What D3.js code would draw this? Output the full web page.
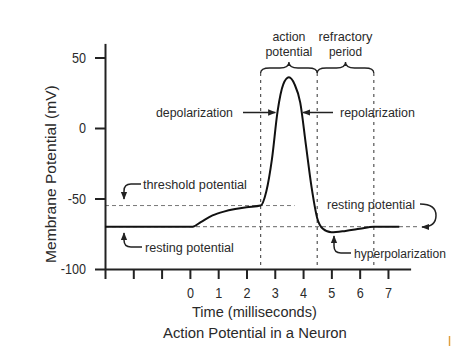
<!DOCTYPE html>
<html>
<head>
<meta charset="utf-8">
<script src="https://cdn.jsdelivr.net/npm/d3@7"></script>
<style>
  html, body { margin: 0; padding: 0; background: #fff; }
  svg { display: block; }
  text { font-family: "Liberation Sans", Arial, sans-serif; fill: #2a2a2a; }
</style>
</head>
<body>
<svg id="chart" width="451" height="346"></svg>
<script>
// Membrane potential trace (time in ms, potential in mV)
const traceTime = [-3, 0.1, 0.4, 0.8, 1.2, 1.6, 2.0, 2.5, 2.7, 2.9, 3.1, 3.3, 3.5, 3.7, 3.9, 4.1, 4.3, 4.5, 4.7, 5.0, 5.5, 6.0, 6.5, 7.4];
const traceMv   = [-70, -70, -66.5, -62, -59.3, -57.5, -56.2, -55, -45, -22, 12, 31, 36, 31, 18, -12, -42, -64, -71.5, -74, -73, -71.5, -70, -70];

const yTicks = [50, 0, -50, -100];
const xTicks = [-3, -2, -1, 0, 1, 2, 3, 4, 5, 6, 7];

const thresholdMv = -55;
const restingMv = -70;
// boundaries of the action potential and refractory period (ms)
const phaseBounds = [2.5, 4.5, 6.5];
const phaseNames = [["action", "potential"], ["refractory", "period"]];

const svg = d3.select("#chart");
const x = d3.scaleLinear().domain([-3, 7.8]).range([105, 410.6]);
const y = d3.scaleLinear().domain([-100, 60]).range([269, 43.4]);

// squeeze a tick label horizontally to a condensed look
function squeeze(node) {
  d3.select(node).attr("textLength", node.getComputedTextLength() * 0.84)
    .attr("lengthAdjust", "spacingAndGlyphs");
}

// place a condensed text: left edge at (tx, ty), scaled to the given width
function narrowText(txt, tx, ty, width, size, rotate) {
  const t = svg.append("text").attr("x", 0).attr("y", 0).attr("font-size", size).text(txt);
  const sx = width / t.node().getComputedTextLength();
  t.attr("transform", `translate(${tx},${ty})${rotate ? " rotate(-90)" : ""} scale(${sx},1)`);
  return t;
}

// arrow marker
const defs = svg.append("defs");
defs.append("marker")
  .attr("id", "head").attr("viewBox", "0 0 10 10")
  .attr("refX", 9).attr("refY", 5)
  .attr("markerWidth", 8).attr("markerHeight", 8)
  .attr("markerUnits", "userSpaceOnUse")
  .attr("orient", "auto")
  .append("path").attr("d", "M0,1 L10,5 L0,9 Z").attr("fill", "#222");

// reference lines
svg.append("line")
  .attr("x1", x(-3)).attr("x2", x(3.7))
  .attr("y1", y(thresholdMv)).attr("y2", y(thresholdMv))
  .attr("stroke", "#777").attr("stroke-width", 1).attr("stroke-dasharray", "4,3");
svg.append("line")
  .attr("x1", x(-3)).attr("x2", x(8.1))
  .attr("y1", y(restingMv)).attr("y2", y(restingMv))
  .attr("stroke", "#666").attr("stroke-width", 1).attr("stroke-dasharray", "4,3");

svg.selectAll(".phase").data(phaseBounds).enter().append("line")
  .attr("x1", d => x(d)).attr("x2", d => x(d))
  .attr("y1", 73).attr("y2", y(-100))
  .attr("stroke", "#555").attr("stroke-width", 1.2).attr("stroke-dasharray", "3,4");

// braces over each phase
function brace(x1, x2, yb, yt) {
  const xm = (x1 + x2) / 2, ym = yb - 5, q = 9;
  return `M${x1},${yb} Q${x1},${ym} ${x1 + q},${ym} L${xm - q},${ym} Q${xm},${ym} ${xm},${yt}` +
         ` Q${xm},${ym} ${xm + q},${ym} L${x2 - q},${ym} Q${x2},${ym} ${x2},${yb}`;
}
const phaseWidths = [[33, 47], [54, 33]];
for (let i = 0; i < 2; i++) {
  const x1 = x(phaseBounds[i]), x2 = x(phaseBounds[i + 1]);
  const cx = (x1 + x2) / 2;
  svg.append("path").attr("d", brace(x1, x2, 73, 62))
    .attr("fill", "none").attr("stroke", "#222").attr("stroke-width", 1.3);
  [41, 56].forEach((yy, j) => {
    narrowText(phaseNames[i][j], cx - phaseWidths[i][j] / 2, yy, phaseWidths[i][j], 13);
  });
}

// axes
const yAxis = d3.axisLeft(y).tickValues(yTicks).tickSize(10).tickSizeOuter(0).tickPadding(9)
  .tickFormat(d => `${d}`);
const xAxis = d3.axisBottom(x).tickValues(xTicks).tickSize(10).tickSizeOuter(0).tickPadding(8)
  .tickFormat(d => d >= 0 ? `${d}` : "");

const gy = svg.append("g").attr("transform", `translate(${x(-3)},0)`).call(yAxis);
const gx = svg.append("g").attr("transform", `translate(0,${y(-100)})`).call(xAxis);
[gx, gy].forEach(g => {
  g.select(".domain").attr("stroke", "#222").attr("stroke-width", 2);
  g.selectAll(".tick line").attr("stroke", "#222").attr("stroke-width", 2);
  g.selectAll(".tick text").attr("font-size", 15).attr("font-family", null).attr("fill", "#2a2a2a")
    .filter(function () { return this.textContent.length > 0; })
    .each(function () { squeeze(this); });
});

// trace
const pts = traceTime.map((t, i) => [t, traceMv[i]]);
svg.append("path").datum(pts)
  .attr("fill", "none").attr("stroke", "#111").attr("stroke-width", 2)
  .attr("d", d3.line().x(d => x(d[0])).y(d => y(d[1])).curve(d3.curveMonotoneX));

// axis titles
narrowText("Time (milliseconds)", 192, 317, 125, 15);
narrowText("Action Potential in a Neuron", 163, 338, 184, 15);
narrowText("Membrane Potential (mV)", 56, 263, 178, 15, true);

// annotations
function label(txt, tx, ty, w) { narrowText(txt, tx, ty, w, 13.5); }
function arrow(d) {
  svg.append("path").attr("d", d).attr("fill", "none")
    .attr("stroke", "#222").attr("stroke-width", 1.5).attr("marker-end", "url(#head)");
}

label("depolarization", 156, 117, 77);
arrow(`M243,112.5 L${x(3.02)},112.5`);
label("repolarization", 340, 117, 75);
arrow(`M333,112.5 L${x(4.0)},112.5`);

label("threshold potential", 143, 189, 104);
arrow("M141,184 L131,184 Q124,184 124,191 L124,199");
label("resting potential", 145, 252, 89);
arrow("M142,247 L131,247 Q124,247 124,240 L124,233");

label("resting potential", 327, 209, 88);
arrow("M420,204 Q436,204 436,215.5 Q436,227 422,227");
label("hyperpolarization", 354, 258, 92);
arrow("M351,253 L341,253 Q334,253 334,246 L334,236");

// small mark at the lower right edge
svg.append("line").attr("x1", 449.5).attr("x2", 449.5).attr("y1", 336).attr("y2", 346)
  .attr("stroke", "#e0a040").attr("stroke-width", 1.5);
</script>
</body>
</html>
